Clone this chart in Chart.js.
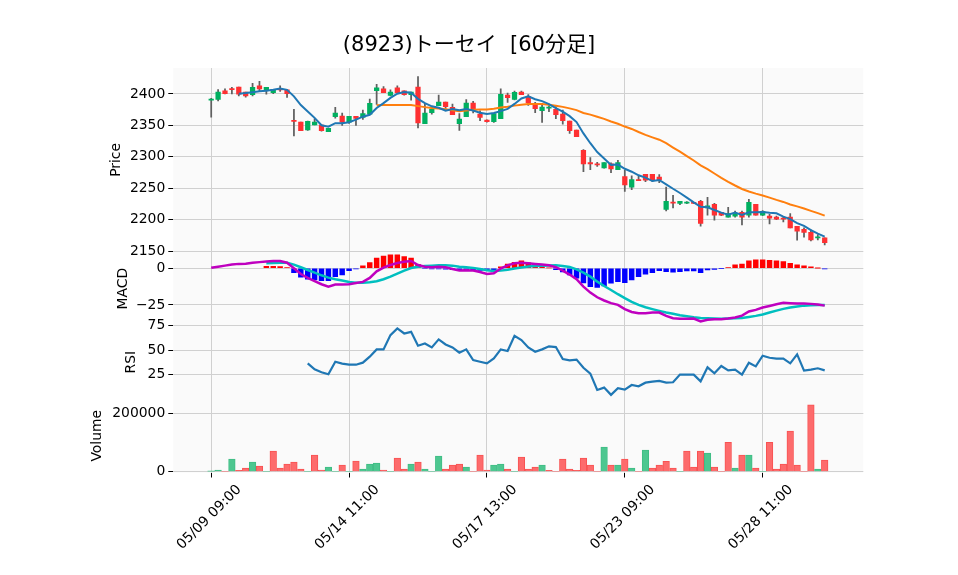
<!DOCTYPE html>
<html><head><meta charset="utf-8">
<script src="https://cdn.jsdelivr.net/npm/chart.js@4.4.1/dist/chart.umd.min.js"></script>
<style>html,body{margin:0;padding:0;background:#fff;}canvas{display:block;}</style>
</head><body>
<canvas id="c" width="958" height="575"></canvas>
<script>
const days = ['05/09','05/10','05/13','05/14','05/15','05/16','05/17','05/20','05/21','05/22','05/23','05/24','05/27','05/28','05/29'];
const hours = ['09:00','10:00','11:00','12:00','13:00','14:00'];
const categories = [];
days.forEach(d => hours.forEach(h => categories.push(d + ' ' + h)));

const opens = [2390,2391.5,2405,2408,2411,2403,2399,2413,2406,2402,2408,2406.4,2356.9,2355.3,2343,2351,2350.5,2340,2363.8,2365,2355.3,2364.4,2362.8,2368,2405.3,2408,2397.9,2409.6,2405,2399,2411,2352.7,2370.2,2381.4,2387.2,2378.7,2352.7,2363.8,2385.6,2368,2358.5,2355.8,2360.6,2398.4,2391.5,2403.2,2395.7,2383.5,2373.4,2377.6,2375.5,2368,2357,2342.5,2310.6,2291,2288.3,2282.4,2288.8,2279.8,2268.6,2252,2263.8,2272.3,2272.3,2268,2216.5,2227.7,2226,2226.6,2226.6,2229.3,2219,2224.5,2211.7,2204.3,2205.8,2211.7,2207.4,2224.5,2207.4,2205.8,2204.3,2202.7,2204.3,2189.4,2185,2180,2171.3,2171.3];
const highs = [2393,2407,2408,2410.6,2411,2403,2417,2420,2410.6,2407.4,2412.8,2406.4,2375.5,2355.3,2357,2360.6,2351,2345.2,2378.7,2369.7,2364.4,2364.4,2374.5,2392,2415.4,2411.7,2406.4,2412.8,2405,2403.2,2427.7,2385,2379.8,2398.4,2387.2,2384,2369,2391,2388.3,2373.4,2359,2369,2408,2401.6,2404.8,2404.8,2399,2386.7,2385,2381.4,2379.8,2374.5,2357,2342.5,2311.7,2299,2291.5,2291,2290.4,2294.7,2278.7,2269.7,2269,2272.3,2272.3,2271.8,2252,2238.8,2229.3,2229,2227.2,2230.9,2235.6,2226,2211.7,2219.7,2213.8,2213.8,2232.5,2224.5,2214.5,2208.5,2205.8,2205,2210,2189.4,2187.2,2184,2176.6,2171.3];
const lows = [2363,2389,2400,2400,2397,2395,2397,2405,2399.5,2400.5,2404,2394.7,2333.5,2341.5,2342,2351,2341,2340,2361.7,2350,2353,2350,2359.6,2368,2383.5,2402,2396.8,2402,2398,2390,2346,2352.7,2368,2381.4,2377,2367,2342,2363.8,2370,2357.5,2355,2354.8,2360.6,2386.7,2390.4,2399,2382,2370.2,2354.8,2371.8,2360.6,2352,2337.2,2332,2276.6,2279.8,2285,2282,2275,2279.8,2245,2248,2262,2260.6,2260.6,2259,2214,2219,2224,2225.5,2225.5,2190,2207.4,2199.5,2206.5,2204.3,2204.3,2192,2204.3,2207.4,2206.5,2193.6,2200,2196.8,2187.2,2167.6,2172.3,2166.5,2168,2160];
const closes = [2392,2403,2400.5,2407,2399.5,2397,2410.6,2408,2410.6,2407.4,2406.4,2400.5,2356.4,2341.5,2356.4,2355.3,2341.5,2345.2,2369.7,2355.3,2364.4,2361.2,2369,2385,2409.6,2402,2403.2,2402,2399,2403.2,2354,2369.7,2376,2387.2,2379.8,2367,2360,2385.6,2376,2362.8,2356,2369,2399.5,2394,2402.7,2399,2386,2376.6,2379.3,2378.7,2367,2357.4,2341.5,2332,2288.8,2288.8,2287.2,2291,2280.8,2291,2255.3,2264,2262.2,2262.8,2263.8,2263.8,2229.3,2226.6,2229.3,2227.7,2226,2194.1,2222.3,2207.4,2207.4,2210,2210,2204.3,2227.7,2207.4,2213.3,2202.7,2201,2201,2187.2,2182,2179.8,2168,2172.3,2163.8];

const ma5 = [null,null,null,null,2400.4,2401.4,2402.9,2404.4,2405.1,2406.7,2408.6,2406.6,2396.3,2382.4,2372.2,2362.0,2350.2,2348.0,2353.6,2353.4,2355.2,2359.2,2363.9,2367.0,2377.8,2385.4,2393.8,2400.4,2403.2,2401.9,2392.3,2385.6,2380.4,2378.0,2373.3,2375.9,2374.0,2375.9,2373.7,2370.3,2368.1,2369.9,2372.7,2376.3,2384.2,2392.8,2396.2,2391.7,2388.7,2383.9,2377.5,2371.8,2364.8,2355.3,2337.3,2321.7,2307.7,2297.6,2287.3,2287.8,2281.1,2276.4,2270.7,2267.1,2261.6,2263.3,2256.4,2249.3,2242.6,2235.3,2227.8,2220.7,2219.9,2215.5,2211.4,2208.2,2211.4,2207.8,2211.9,2211.9,2212.5,2211.1,2210.4,2205.1,2201.0,2194.8,2190.2,2183.6,2177.9,2173.2];
const ma25 = [null,null,null,null,null,null,null,null,null,null,null,null,null,null,null,null,null,null,null,null,null,null,null,null,2382.1,2382.5,2382.5,2382.6,2382.3,2382.4,2380.7,2379.1,2377.8,2376.8,2375.7,2374.2,2372.5,2373.7,2375.1,2375.3,2375.4,2376.5,2378.6,2379.6,2381.5,2382.9,2383.9,2384.2,2384.0,2382.7,2381.3,2379.5,2377.1,2374.4,2369.8,2367.2,2363.9,2360.5,2356.3,2352.7,2348.2,2344.4,2339.5,2334.9,2331.0,2327.3,2321.7,2314.8,2308.2,2301.2,2294.3,2286.6,2280.4,2273.6,2266.7,2260.4,2254.5,2249.0,2244.9,2241.6,2238.6,2235.2,2231.6,2228.4,2224.3,2221.3,2218.0,2214.2,2210.6,2206.6];

const macd = [0.3,1.1,1.8,2.5,3.0,3.1,3.7,4.2,4.6,4.9,5.0,3.8,0.0,-3.9,-6.6,-8.7,-10.9,-12.5,-11.1,-11.1,-10.9,-10.0,-9.3,-6.6,-2.1,0.4,2.2,3.6,4.5,5.0,2.2,1.1,0.7,1.1,0.7,-0.5,-1.6,-1.4,-1.6,-2.5,-3.9,-3.4,-0.2,2.0,3.4,3.8,3.4,2.9,2.5,2.0,0.7,-1.6,-4.3,-7.5,-12.5,-16.6,-19.8,-22.0,-23.8,-25.0,-27.9,-29.8,-30.7,-30.7,-30.2,-30.2,-32.5,-34.1,-34.5,-34.5,-34.3,-36.3,-35.2,-34.8,-34.8,-34.3,-33.6,-32.3,-29.5,-28.4,-26.8,-25.7,-24.5,-23.6,-23.8,-24.1,-24.1,-24.3,-24.8,-25.5];
const signal = [null,null,null,null,null,null,null,null,3.4,3.6,3.8,3.8,2.5,0.7,-1.2,-3.0,-4.8,-6.4,-7.5,-8.4,-9.3,-9.8,-9.8,-9.6,-8.9,-7.5,-5.7,-3.7,-1.6,0.2,1.1,1.6,1.8,2.0,2.0,1.8,1.1,0.7,0.2,-0.5,-1.4,-1.8,-1.6,-1.0,-0.2,0.6,1.2,1.6,1.8,1.9,2.0,1.6,0.9,-0.7,-3.0,-5.7,-9.1,-12.1,-14.8,-17.7,-20.4,-22.9,-25.0,-26.6,-27.9,-29.1,-30.2,-31.1,-32.0,-32.7,-33.4,-33.9,-34.1,-34.3,-34.5,-34.3,-34.1,-33.9,-33.2,-32.5,-31.6,-30.2,-28.9,-27.7,-26.8,-26.1,-25.5,-25.2,-25.0,-25.0];
const hist = [null,null,null,null,null,null,null,null,1.3,1.4,1.2,0.4,-3.0,-6.1,-7.5,-7.9,-8.4,-8.4,-5.7,-4.5,-1.6,-0.5,1.6,3.9,7.0,8.4,9.1,9.1,7.9,7.0,2.7,-0.3,-0.5,-0.4,-0.6,-0.9,-1.2,-1.3,-1.2,-1.4,-1.6,-1.3,1.0,2.9,4.1,5.0,3.8,2.4,1.2,0.3,-1.0,-2.5,-4.5,-6.8,-10.0,-12.5,-13.0,-12.0,-10.2,-9.1,-9.8,-7.9,-5.7,-4.1,-3.0,-1.6,-2.3,-2.7,-2.3,-1.8,-1.8,-3.0,-1.1,-0.7,-0.2,0.4,2.3,2.9,5.0,5.7,5.7,5.4,5.0,4.5,3.4,2.3,1.6,0.9,0.1,-0.5];

const rsi = [null,null,null,null,null,null,null,null,null,null,null,null,null,null,36.3,30.1,27.1,25.0,38.0,36.0,34.9,34.9,37.0,43.2,50.7,50.7,65.4,72.3,67.1,68.8,54.5,56.8,52.7,61.0,55.8,52.7,47.3,50.7,39.7,38.0,36.3,41.4,50.7,49.0,64.7,60.3,52.7,48.3,50.7,53.8,53.1,40.8,39.4,40.1,31.8,25.7,8.9,11.3,3.8,10.6,9.2,14.0,12.7,16.4,17.5,18.2,16.4,16.8,24.7,24.7,24.7,17.8,32.2,26.0,33.6,29.1,29.8,24.7,37.0,33.2,44.2,42.1,41.1,41.1,36.3,45.5,28.8,29.8,31.2,29.1];

const volumes = [2500,5800,0,43500,4700,12700,33200,19500,0,70900,12700,26400,33200,9200,0,57200,5800,16100,0,22900,0,36600,9200,26400,29800,5800,0,46900,9200,26400,33200,9200,0,53800,9200,22900,26400,16100,0,57200,5800,22900,26400,9200,0,50300,9200,16100,22900,4700,0,43500,9200,4700,46900,22900,0,84500,22900,22900,43500,12700,0,74300,12700,22900,35500,12700,0,70900,16100,70900,64000,16100,0,100600,12700,57000,57000,12700,0,100600,9200,26400,139300,22900,0,228500,9200,40100];
const volUp = [1,1,0,1,0,0,1,0,1,0,0,0,0,0,1,0,0,1,1,0,1,0,1,1,1,0,1,0,0,1,0,1,1,1,0,0,0,1,0,0,0,1,1,0,1,0,0,0,1,0,0,0,0,0,0,0,0,1,0,1,0,1,0,1,0,0,0,0,1,0,0,0,1,0,0,0,1,0,1,0,1,0,0,0,0,0,0,0,1,0];

const xTickIdx = [0,20,40,60,80];
const priceTicks = [2150,2200,2250,2300,2350,2400];
const macdTicks = [-25,0];
const rsiTicks = [25,50,75];
const volTicks = [0,200000];
const titleText = '(8923)トーセイ  [60分足]';

const FONT = "'DejaVu Sans', 'Noto Sans CJK JP', sans-serif";
Chart.defaults.font.family = FONT;
Chart.defaults.font.size = 13.9;
Chart.defaults.color = '#000';

const UP = '#00b060', DOWN = '#fe3032', WICK = '#606060';
const GRID = '#d0d0d0';
const pts = arr => arr.map((v, i) => v == null ? null : {x: i, y: v}).filter(p => p);
const minus = v => v < 0 ? '\u2212' + Math.abs(v) : String(v);

function yAxis(weight, stackWeight, min, max, ticks, title, titlePad) {
  return {
    type: 'linear', position: 'left', stack: 'panels', stackWeight: stackWeight, weight: weight,
    min: min, max: max,
    afterBuildTicks: s => { s.ticks = ticks.map(v => ({value: v})); },
    afterFit: s => { s.width = 173.3; },
    grid: {color: GRID, lineWidth: 1, tickColor: '#000', tickLength: 5, offset: false},
    border: {display: false},
    ticks: {padding: 3, color: '#000', font: {size: 13.9}, callback: v => minus(v)},
    title: {display: true, text: title, color: '#000', font: {size: 13.9}, padding: {top: titlePad, bottom: 0}}
  };
}

const bgPlugin = {
  id: 'bgPanel',
  beforeDraw(chart) {
    const {ctx, chartArea: a} = chart;
    ctx.save();
    ctx.fillStyle = '#fafafa';
    ctx.fillRect(a.left, a.top, a.right - a.left, a.bottom - a.top);
    ctx.restore();
  }
};

const idx = categories.map((_, i) => i);

new Chart(document.getElementById('c'), {
  type: 'bar',
  data: {
    datasets: [
      {type: 'bar', yAxisID: 'yPrice', order: 6, grouped: false, barThickness: 1.1,
       data: idx.map(i => ({x: i, y: [lows[i], highs[i]]})), backgroundColor: WICK},
      {type: 'bar', yAxisID: 'yPrice', order: 5, grouped: false, barThickness: 4.6, minBarLength: 1,
       data: idx.map(i => ({x: i, y: [opens[i], closes[i]]})),
       backgroundColor: c => closes[c.raw.x] >= opens[c.raw.x] ? UP : DOWN},
      {type: 'line', yAxisID: 'yPrice', order: 2, data: pts(ma25), borderColor: '#ff7f0e', borderWidth: 2, pointRadius: 0, tension: 0},
      {type: 'line', yAxisID: 'yPrice', order: 1, data: pts(ma5), borderColor: '#1f77b4', borderWidth: 2, pointRadius: 0, tension: 0},
      {type: 'bar', yAxisID: 'yMacd', order: 4, grouped: false, barThickness: 4.8,
       data: pts(hist), backgroundColor: c => c.raw.y >= 0 ? '#ff0000' : '#0000ff'},
      {type: 'line', yAxisID: 'yMacd', order: 1, data: pts(macd), borderColor: '#bf00bf', borderWidth: 2.5, pointRadius: 0, tension: 0},
      {type: 'line', yAxisID: 'yMacd', order: 1, data: pts(signal), borderColor: '#00bfbf', borderWidth: 2.5, pointRadius: 0, tension: 0},
      {type: 'line', yAxisID: 'yRsi', order: 1, data: pts(rsi), borderColor: '#1f77b4', borderWidth: 2.2, pointRadius: 0, tension: 0},
      {type: 'bar', yAxisID: 'yVol', order: 4, grouped: false, barThickness: 6.6,
       data: pts(volumes),
       backgroundColor: c => volUp[c.raw.x] ? '#4dc790' : '#fd6b6c',
       borderColor: c => volUp[c.raw.x] ? '#3fbd85' : '#f85252',
       borderWidth: c => c.raw.y > 3000 ? 1 : 0}
    ]
  },
  options: {
    responsive: false, animation: false, devicePixelRatio: 1,
    layout: {padding: {left: 0, right: 20, top: 0, bottom: 0}},
    plugins: {
      legend: {display: false}, tooltip: {enabled: false},
      title: {display: true, text: titleText, color: '#000', font: {size: 21, weight: 'normal'}, padding: {top: 33.4, bottom: 9.4}}
    },
    scales: {
      x: {
        type: 'linear', min: -5.5, max: 94.6, offset: false,
        afterBuildTicks: s => { s.ticks = xTickIdx.map(v => ({value: v})); },
        afterFit: s => { s.height = 102.5; },
        grid: {color: GRID, lineWidth: 1, tickColor: '#000', tickLength: 5, offset: false},
        border: {display: false},
        ticks: {autoSkip: false, minRotation: 45, maxRotation: 45, labelOffset: 28, padding: 4, color: '#000', font: {size: 13.9},
                callback: v => categories[v]}
      },
      yPrice: yAxis(4, 5, 2149.0, 2441.3, priceTicks, 'Price', 107.6),
      yMacd: yAxis(3, 2, -39.0, 11.2, macdTicks, 'MACD', 114.6),
      yRsi: yAxis(2, 2, -0.4, 75.4, rsiTicks, 'RSI', 122.6),
      yVol: yAxis(1, 2, -2700, 249000, volTicks, 'Volume', 88.6),
      yPad: {position: 'right', display: true, grid: {display: false, drawTicks: false}, ticks: {display: false},
             border: {display: false}, afterFit: s => { s.width = 74.7; }}
    }
  },
  plugins: [bgPlugin]
});
</script>
</body></html>
